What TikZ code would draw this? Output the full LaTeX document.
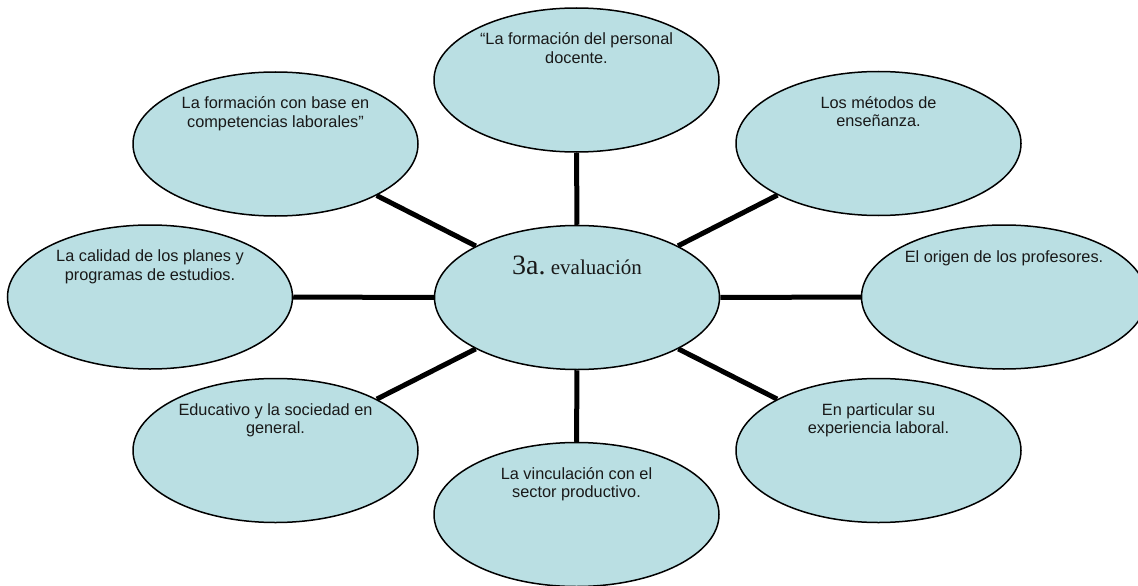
\documentclass[tikz,border=0pt]{standalone}
\usepackage{fontspec}
\setmainfont{Liberation Sans}
\newfontfamily\timesfont{Liberation Serif}
\usetikzlibrary{shapes.geometric,calc}
\definecolor{bubble}{RGB}{186,223,227}
\definecolor{txtcol}{RGB}{25,25,25}
\tikzset{
  bub/.style={ellipse, draw=black, line width=1.5pt, fill=bubble,
    minimum width=285pt, minimum height=144pt, inner sep=0pt},
  lbl/.style={anchor=base, align=center, inner sep=0pt, text=txtcol,
    font=\fontsize{16.3}{18.4}\selectfont},
  spoke/.style={draw=black, line width=5pt}
}
\begin{document}
\begin{tikzpicture}[x=1pt,y=-1pt]
\useasboundingbox (0,0) rectangle (1138,586);
\clip (0,0) rectangle (1138,586);
\node[bub] (C)  at (577,297.5) {};
\node[bub] (T)  at (576.5,80) {};
\node[bub] (TL) at (275.5,144) {};
\node[bub] (TR) at (878.5,143.5) {};
\node[bub] (L)  at (150,297) {};
\node[bub] (R)  at (1004,297) {};
\node[bub] (BL) at (275.5,450.5) {};
\node[bub] (B)  at (576.5,514.5) {};
\node[bub] (BR) at (878.5,450.5) {};
\foreach \n in {T,TL,TR,L,R,BL,B,BR} {\draw[spoke] (C) -- (\n);}
\node[lbl] (tT)  at ($(T.center)+(0,-16.8)$) {“La formación del personal\\docente.};
\node[lbl] (tTL) at ($(TL.center)+(0,-16.8)$) {La formación con base en\\competencias laborales”};
\node[lbl] (tTR) at ($(TR.center)+(0,-16.8)$) {Los métodos de\\enseñanza.};
\node[lbl] (tL)  at ($(L.center)+(0,-16.8)$) {La calidad de los planes y\\programas de estudios.};
\node[lbl] (tR)  at ($(R.center)+(0,-35)$) {El origen de los profesores.};
\node[lbl] (tBL) at ($(BL.center)+(0,-16.8)$) {Educativo y la sociedad en\\general.};
\node[lbl] (tB)  at ($(B.center)+(0,-16.8)$) {La vinculación con el\\sector productivo.};
\node[lbl] (tBR) at ($(BR.center)+(0,-16.8)$) {En particular su\\experiencia laboral.};
\node[anchor=base, inner sep=0pt, text=txtcol] (tC) at ($(C.center)+(0,-23.5)$)
  {\timesfont\fontsize{28}{30}\selectfont 3a.\fontsize{21}{24}\selectfont\ evaluación};
\end{tikzpicture}
\end{document}
